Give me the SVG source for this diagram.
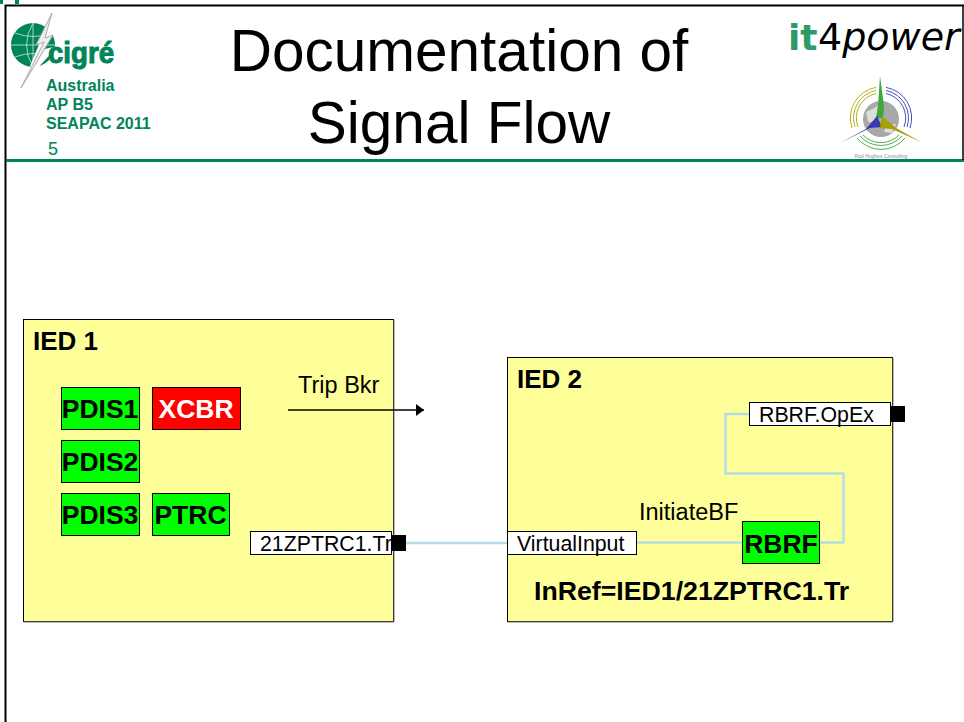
<svg xmlns="http://www.w3.org/2000/svg" width="964" height="722" viewBox="0 0 964 722">
<defs>
<marker id="arr" markerUnits="userSpaceOnUse" markerWidth="9" markerHeight="12" refX="8" refY="6" orient="auto"><path d="M0 0L8 6L0 12Z" fill="#000"/></marker>
</defs>
<style>
text{font-family:"Liberation Sans",Arial,sans-serif;fill:#000}
.ied{fill:#ffff99;stroke:#000;stroke-width:1}
.edge{fill:none;stroke:#777;stroke-width:1}
.ln{fill:#00ff00;stroke:#000;stroke-width:1}
.lbl{fill:#fff;stroke:#000;stroke-width:1}
.b{font-weight:bold;font-size:26.500px}
.h{font-weight:bold;font-size:26px}
.s{font-size:21.300px}
.m{font-size:23.500px}
.g{font-weight:bold;font-size:16px;fill:#00855a}
.w{fill:none;stroke:#b5dce6;stroke-width:2.500}
.t{font-size:58.500px}
.ring{fill:none;stroke-width:1}
</style>
<rect width="964" height="722" fill="#fff"/>
<g id="frame">
<rect x="0" y="0" width="3" height="4" fill="#00855a"/><rect x="15" y="0" width="4" height="4" fill="#00855a"/>
<path d="M5.500 722V5.500H964" fill="none" stroke="#000" stroke-width="2"/>
<path d="M6 160.500H964" stroke="#00855a" stroke-width="3"/>
<path d="M963 5V160" stroke="#000" stroke-width="1.500"/>
</g>
<g id="logo-cigre">
<circle cx="33" cy="45" r="22" fill="#00855a"/>
<path d="M11 45H55M33 23V67M15 33Q33 40 52 33M15 57Q33 50 52 57M33 23Q20 45 33 67" stroke="#cfe8dc" stroke-width=".8" fill="none"/>
<path d="M46 28L62 24L40 50L58 46L34 72L30 66Z" fill="#fff"/>
<path d="M52 13L36 45L44 42L21 88L53 35L45 38Z" fill="#eee" stroke="#aaa" stroke-width="1"/>
<text x="48" y="63" style="font-weight:bold;font-size:29px;fill:#00855a;stroke:#00855a;stroke-width:1" textLength="66" lengthAdjust="spacingAndGlyphs">cigré</text>
</g>
<g id="sidebar-text">
<text x="46" y="91" class="g">Australia</text>
<text x="46" y="110" class="g">AP B5</text>
<text x="46" y="129" class="g">SEAPAC 2011</text>
<text x="48" y="155" style="font-size:18px;fill:#00855a">5</text>
</g>
<g id="title">
<text x="459" y="71" class="t" text-anchor="middle">Documentation of</text>
<text x="459" y="143" class="t" text-anchor="middle">Signal Flow</text>
</g>
<g id="logo-it4power">
<text x="788" y="50" style="font-family:'DejaVu Sans',sans-serif;font-size:36px;font-weight:bold;fill:#2e9c6a">it</text>
<text x="818" y="50" style="font-family:'DejaVu Sans',sans-serif;font-size:38px">4<tspan font-style="italic">power</tspan></text>
</g>
<g id="logo-rod">
<circle cx="881" cy="119" r="18" fill="#a8a8a8"/>
<path d="M866 112L878 106L876 122L868 122ZM886 126L896 124L892 133L884 132Z" fill="#ddd"/>
<path class="ring" stroke="#b8b020" d="M876 87.400A31 31 0 0 0 852 128M876 90.500A28 28 0 0 0 855 127M876 93.500A25 25 0 0 0 858 127"/>
<path class="ring" stroke="#4a50c0" d="M886 87.400A31 31 0 0 1 910 128M886 90.500A28 28 0 0 1 907 127M886 93.500A25 25 0 0 1 904 127"/>
<path class="ring" stroke="#50b050" d="M857 138A31 31 0 0 0 905 138M860 136A28 28 0 0 0 902 136M863 135A25 25 0 0 0 899 135"/>
<path d="M880 76L884 106L883 118H876L878 106Z" fill="#3aa83a"/>
<path d="M840 143L866 129L877 116L882 127L870 128Z" fill="#3a3ab0"/>
<path d="M921 142L896 128L882 116L880 128L892 129Z" fill="#a8a000"/>
<text x="881" y="158" text-anchor="middle" style="font-size:5px;fill:#8a8ab0">Rod Hughes Consulting</text>
</g>
<g id="ied1">
<rect class="ied" x="23.500" y="319.500" width="370" height="302"/>
<path class="edge" d="M394 320V622H24"/>
<text x="33" y="350" class="h">IED 1</text>
<text x="298" y="393" class="m">Trip Bkr</text>
</g>
<g id="ied2">
<rect class="ied" x="507.500" y="357.500" width="385" height="264"/>
<path class="edge" d="M893 358V622H508"/>
<text x="517" y="388" class="h">IED 2</text>
<text x="639" y="520" class="m">InitiateBF</text>
<text x="534" y="600" class="h" style="font-size:26.700px">InRef=IED1/21ZPTRC1.Tr</text>
</g>
<g id="connectors">
<path class="w" d="M405 543H507"/>
<path class="w" d="M636 542.500H742"/>
<path class="w" d="M820 542.500H843.500V473.500H725.500V414H749"/>
<path d="M288 410H424" stroke="#000" stroke-width="1.500" fill="none" marker-end="url(#arr)"/>
</g>
<g id="pdis1"><rect class="ln" x="61.500" y="387.500" width="78" height="42"/><text x="100" y="418" class="b" text-anchor="middle">PDIS1</text></g>
<g id="xcbr"><rect x="152.500" y="387.500" width="88" height="42" fill="#ff0000" stroke="#000"/><text x="196" y="418" class="b" text-anchor="middle" style="fill:#fff">XCBR</text></g>
<g id="pdis2"><rect class="ln" x="61.500" y="440.500" width="78" height="42"/><text x="100" y="471" class="b" text-anchor="middle">PDIS2</text></g>
<g id="pdis3"><rect class="ln" x="61.500" y="493.500" width="78" height="42"/><text x="100" y="524" class="b" text-anchor="middle">PDIS3</text></g>
<g id="ptrc"><rect class="ln" x="152.500" y="493.500" width="77" height="42"/><text x="190.500" y="524" class="b" text-anchor="middle">PTRC</text></g>
<g id="out-21zptrc"><rect class="lbl" x="250.500" y="531.500" width="141" height="23"/><text x="260" y="551" class="s">21ZPTRC1.Tr</text><rect x="391" y="535" width="15" height="16" fill="#000"/></g>
<g id="virtual-input"><rect class="lbl" x="507.500" y="531.500" width="129" height="23"/><text x="517" y="551" class="s">VirtualInput</text></g>
<g id="rbrf-opex"><rect class="lbl" x="749.500" y="402.500" width="141" height="23"/><text x="759" y="422" class="s">RBRF.OpEx</text><rect x="891" y="406" width="14" height="16" fill="#000"/></g>
<g id="rbrf"><rect class="ln" x="742.500" y="521.500" width="77" height="42"/><text x="781" y="553" class="b" text-anchor="middle">RBRF</text></g>
</svg>
